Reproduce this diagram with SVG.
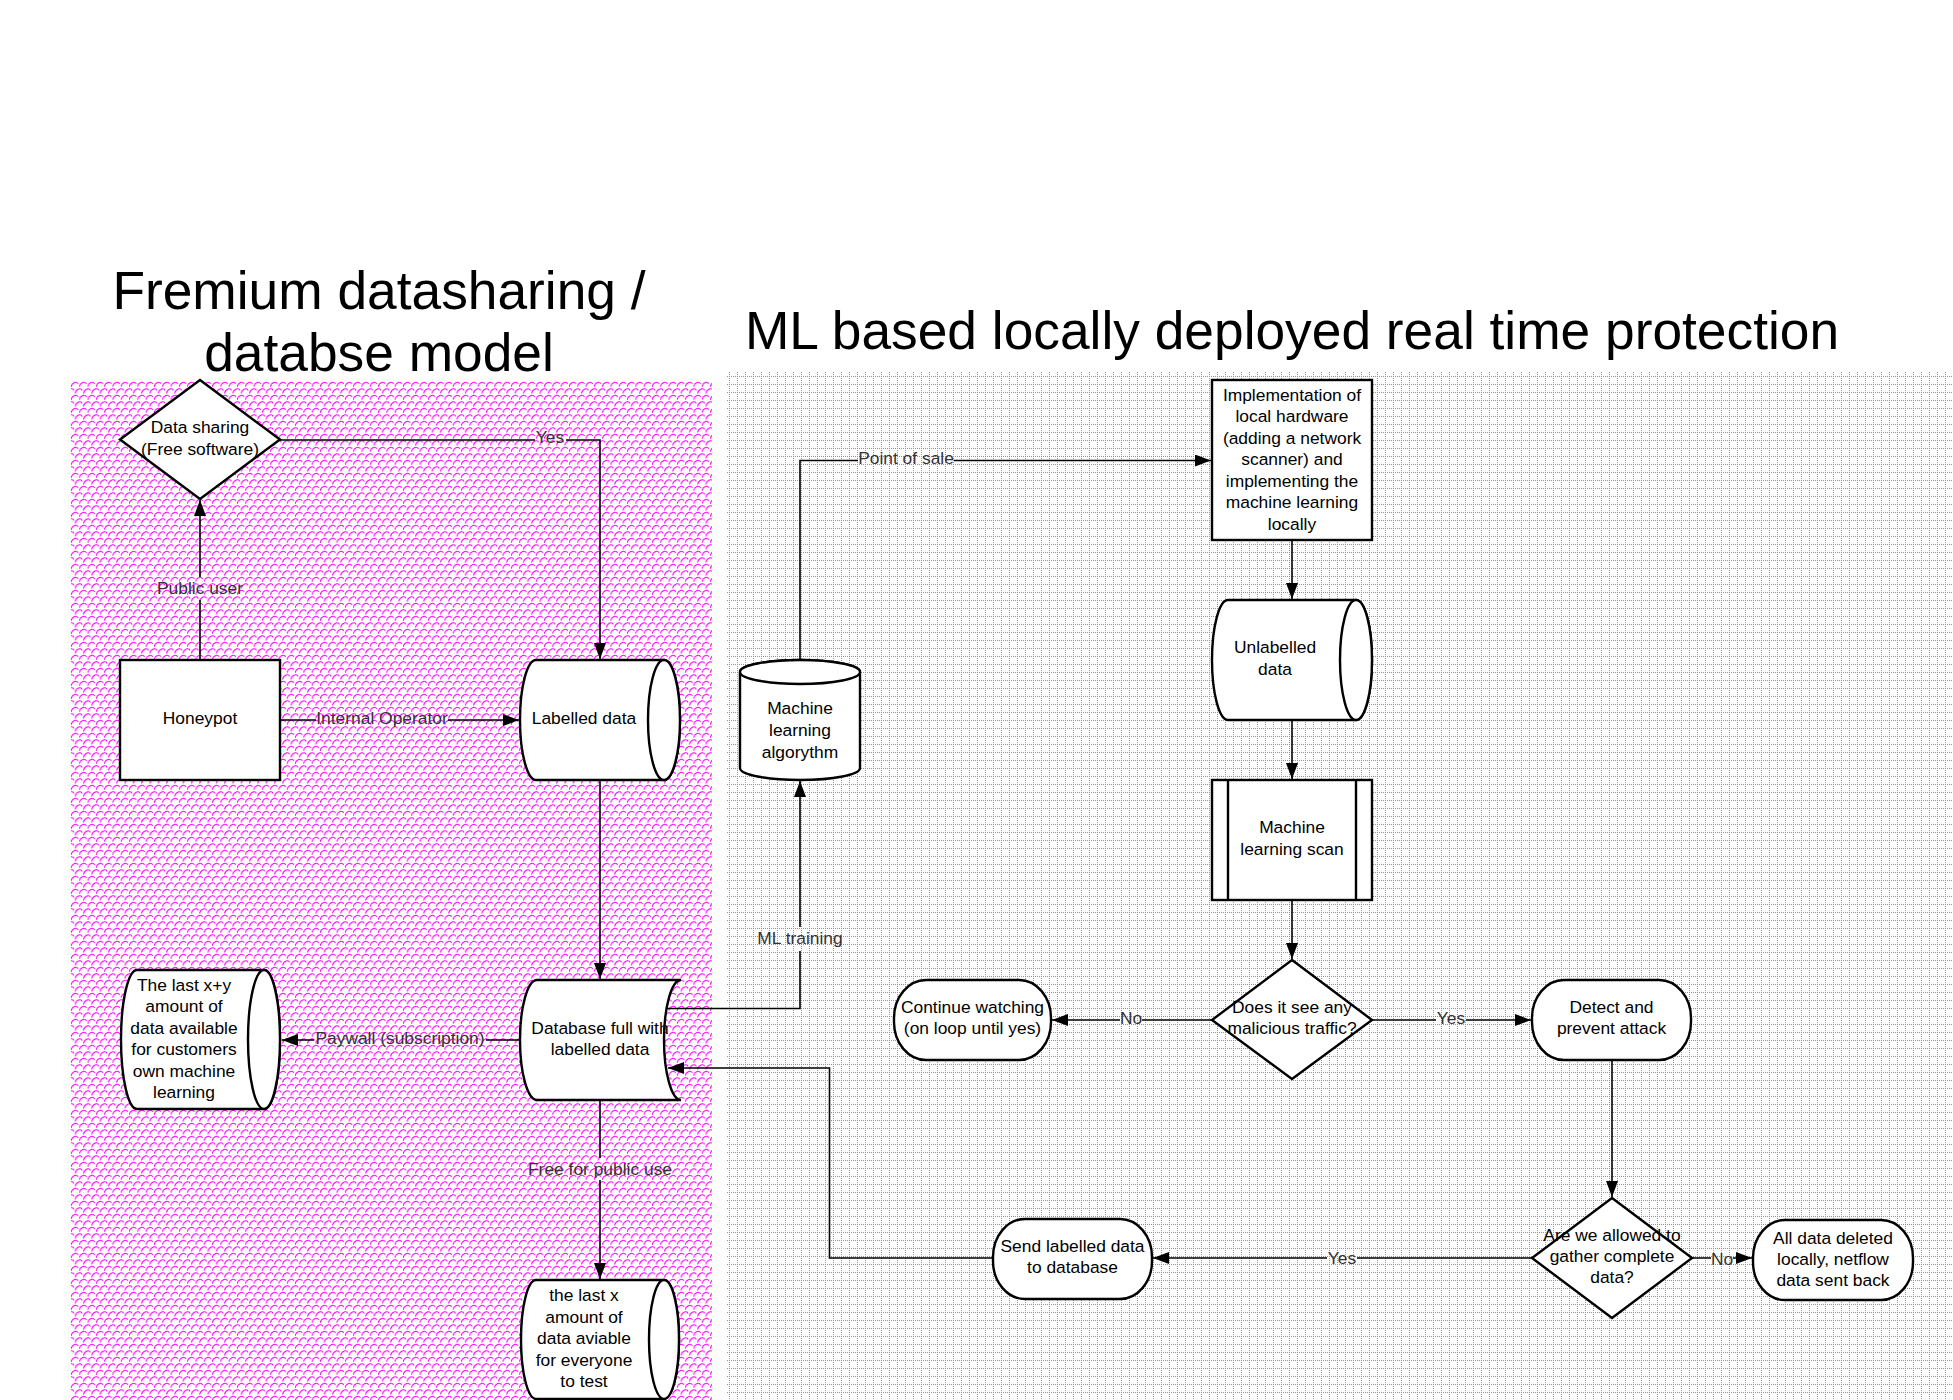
<svg xmlns="http://www.w3.org/2000/svg" width="1953" height="1400" viewBox="0 0 1953 1400">
<style>
.node{fill:#fff;stroke:#000;stroke-width:2.4;}
.t{font-family:"Liberation Sans",Arial,sans-serif;font-size:17.4px;fill:#000;text-anchor:middle;}
.lbl{font-family:"Liberation Sans",Arial,sans-serif;font-size:17.4px;fill:#333;text-anchor:middle;}
.title{font-family:"Liberation Sans",Arial,sans-serif;font-size:53.3px;fill:#000;text-anchor:middle;}
.conn{fill:none;stroke:#000;stroke-width:1.6;}
</style>
<defs>
<pattern id="pinkPat" patternUnits="userSpaceOnUse" x="71" y="381" width="8.3" height="13">
<rect width="8.3" height="13" fill="#fff"/>
<path d="M0,6 C1,1 6,0 7,3 M4.15,12.5 C5.15,7.5 10.15,6.5 11.15,9.5 M-4.15,12.5 C-3.15,7.5 1.85,6.5 2.85,9.5" fill="none" stroke="#ff00ff" stroke-width="1"/>
</pattern>
<pattern id="greenPat" patternUnits="userSpaceOnUse" x="729" y="368" width="8" height="8">
<rect width="8" height="8" fill="#fff"/>
<path shape-rendering="crispEdges" d="M0 0h1v1h-1z M2 0h1v1h-1z M4 0h1v1h-1z M6 0h1v1h-1z M0 2h1v1h-1z M0 4h1v1h-1z M0 6h1v1h-1z" fill="#00ee44"/>
</pattern>
<marker id="arr" markerUnits="userSpaceOnUse" viewBox="0 0 16 12" refX="16" refY="6" markerWidth="16" markerHeight="12" orient="auto">
<path d="M0,0 L16,6 L0,12 Z" fill="#000"/>
</marker>
</defs>
<rect width="1953" height="1400" fill="#fff"/>

<g id="regions">
<rect x="71" y="381" width="641" height="1019" fill="url(#pinkPat)"/>
<rect x="727" y="372" width="1226" height="1028" fill="url(#greenPat)" shape-rendering="crispEdges"/>
</g>

<g id="titles">
<text class="title" x="379" y="309">Fremium datasharing /</text>
<text class="title" x="379" y="371">databse model</text>
<text class="title" x="1292" y="349">ML based locally deployed real time protection</text>
</g>

<g id="connectors">
<path class="conn" d="M200,660 L200,600 M200,577 L200,500" marker-end="url(#arr)"/>
<path class="conn" d="M280,440 L535,440 M566,440 L600,440 L600,659" marker-end="url(#arr)"/>
<path class="conn" d="M280,720 L316,720 M448,720 L519,720" marker-end="url(#arr)"/>
<path class="conn" d="M600,780 L600,979" marker-end="url(#arr)"/>
<path class="conn" d="M521,1040 L486,1040 M314,1040 L282,1040" marker-end="url(#arr)"/>
<path class="conn" d="M600,1100 L600,1158 M600,1180 L600,1279" marker-end="url(#arr)"/>
<path class="conn" d="M667,1008.5 L800,1008.5 L800,951 M800,927 L800,781" marker-end="url(#arr)"/>
<path class="conn" d="M800,660 L800,460.5 L858,460.5 M954,460.5 L1211,460.5" marker-end="url(#arr)"/>
<path class="conn" d="M1292,540 L1292,599" marker-end="url(#arr)"/>
<path class="conn" d="M1292,720 L1292,779" marker-end="url(#arr)"/>
<path class="conn" d="M1292,900 L1292,959" marker-end="url(#arr)"/>
<path class="conn" d="M1212,1020 L1142,1020 M1120,1020 L1052,1020" marker-end="url(#arr)"/>
<path class="conn" d="M1372,1020 L1436,1020 M1466,1020 L1531,1020" marker-end="url(#arr)"/>
<path class="conn" d="M1612,1060 L1612,1197" marker-end="url(#arr)"/>
<path class="conn" d="M1532,1258 L1357,1258 M1327,1258 L1153,1258" marker-end="url(#arr)"/>
<path class="conn" d="M1692,1258 L1711,1258 M1733,1258 L1752,1258" marker-end="url(#arr)"/>
<path class="conn" d="M993,1258 L829.5,1258 L829.5,1068 L668,1068" marker-end="url(#arr)"/>
<text class="lbl" x="200" y="594">Public user</text>
<text class="lbl" x="550" y="443">Yes</text>
<text class="lbl" x="382" y="723.5">Internal Operator</text>
<text class="lbl" x="400" y="1044">Paywall (subscription)</text>
<text class="lbl" x="600" y="1174.5">Free for public use</text>
<text class="lbl" x="800" y="944">ML training</text>
<text class="lbl" x="906" y="464">Point of sale</text>
<text class="lbl" x="1131" y="1024">No</text>
<text class="lbl" x="1451" y="1023.5">Yes</text>
<text class="lbl" x="1342" y="1264">Yes</text>
<text class="lbl" x="1722" y="1265">No</text>
</g>

<g id="data-sharing">
<polygon class="node" points="200,380 280,439.5 200,499 120,439.5"/>
<text class="t" x="200" y="433">Data sharing</text>
<text class="t" x="200" y="454.5">(Free software)</text>
</g>

<g id="honeypot">
<rect class="node" x="120" y="660" width="160" height="120"/>
<text class="t" x="200" y="723.5">Honeypot</text>
</g>

<g id="labelled-data">
<path class="node" d="M536,660 L664,660 A16,60 0 0 1 664,780 L536,780 A16,60 0 0 1 536,660 Z"/>
<ellipse class="node" cx="664" cy="720" rx="16" ry="60"/>
<text class="t" x="584" y="723.5">Labelled data</text>
</g>

<g id="database">
<path class="node" d="M537,980 L681,980 A17,60 0 0 0 681,1100 L537,1100 A17,60 0 0 1 537,980 Z"/>
<text class="t" x="600" y="1034">Database full with</text>
<text class="t" x="600" y="1055">labelled data</text>
</g>

<g id="last-xy">
<path class="node" d="M137,970 L264,970 A16,69.5 0 0 1 264,1109 L137,1109 A16,69.5 0 0 1 137,970 Z"/>
<ellipse class="node" cx="264" cy="1039.5" rx="16" ry="69.5"/>
<text class="t" x="184" y="990.5">The last x+y</text>
<text class="t" x="184" y="1012">amount of</text>
<text class="t" x="184" y="1033.5">data available</text>
<text class="t" x="184" y="1055">for customers</text>
<text class="t" x="184" y="1076.5">own machine</text>
<text class="t" x="184" y="1098">learning</text>
</g>

<g id="last-x">
<path class="node" d="M536,1280 L664,1280 A15,59.5 0 0 1 664,1399 L536,1399 A15,59.5 0 0 1 536,1280 Z"/>
<ellipse class="node" cx="664" cy="1339.5" rx="15" ry="59.5"/>
<text class="t" x="584" y="1301">the last x</text>
<text class="t" x="584" y="1322.5">amount of</text>
<text class="t" x="584" y="1344">data aviable</text>
<text class="t" x="584" y="1365.5">for everyone</text>
<text class="t" x="584" y="1387">to test</text>
</g>

<g id="ml-algorythm">
<path class="node" d="M740,672 A60,12 0 0 1 860,672 L860,768 A60,12 0 0 1 740,768 Z"/>
<ellipse class="node" cx="800" cy="672" rx="60" ry="12"/>
<text class="t" x="800" y="714">Machine</text>
<text class="t" x="800" y="736">learning</text>
<text class="t" x="800" y="757.5">algorythm</text>
</g>

<g id="implementation">
<rect class="node" x="1212" y="380" width="160" height="160"/>
<text class="t" x="1292" y="400.5">Implementation of</text>
<text class="t" x="1292" y="422">local hardware</text>
<text class="t" x="1292" y="443.5">(adding a network</text>
<text class="t" x="1292" y="465">scanner) and</text>
<text class="t" x="1292" y="486.5">implementing the</text>
<text class="t" x="1292" y="508">machine learning</text>
<text class="t" x="1292" y="529.5">locally</text>
</g>

<g id="unlabelled-data">
<path class="node" d="M1228,600 L1356,600 A16,60 0 0 1 1356,720 L1228,720 A16,60 0 0 1 1228,600 Z"/>
<ellipse class="node" cx="1356" cy="660" rx="16" ry="60"/>
<text class="t" x="1275" y="653">Unlabelled</text>
<text class="t" x="1275" y="675">data</text>
</g>

<g id="ml-scan">
<rect class="node" x="1212" y="780" width="160" height="120"/>
<line x1="1228" y1="780" x2="1228" y2="900" stroke="#000" stroke-width="2.4"/>
<line x1="1356" y1="780" x2="1356" y2="900" stroke="#000" stroke-width="2.4"/>
<text class="t" x="1292" y="833">Machine</text>
<text class="t" x="1292" y="855">learning scan</text>
</g>

<g id="malicious-decision">
<polygon class="node" points="1292,960 1372,1020 1292,1079 1212,1020"/>
<text class="t" x="1292" y="1013">Does it see any</text>
<text class="t" x="1292" y="1034">malicious traffic?</text>
</g>

<g id="continue-watching">
<rect class="node" x="894" y="980" width="157" height="80" rx="32" ry="38"/>
<text class="t" x="972.5" y="1013">Continue watching</text>
<text class="t" x="972.5" y="1034">(on loop until yes)</text>
</g>

<g id="detect-prevent">
<rect class="node" x="1532" y="980" width="159" height="80" rx="32" ry="38"/>
<text class="t" x="1611.5" y="1013">Detect and</text>
<text class="t" x="1611.5" y="1034">prevent attack</text>
</g>

<g id="allowed-decision">
<polygon class="node" points="1612,1198 1692,1258 1612,1318 1532,1258"/>
<text class="t" x="1612" y="1240.5">Are we allowed to</text>
<text class="t" x="1612" y="1262">gather complete</text>
<text class="t" x="1612" y="1283">data?</text>
</g>

<g id="send-labelled">
<rect class="node" x="993" y="1219" width="159" height="80" rx="32" ry="38"/>
<text class="t" x="1072.5" y="1252">Send labelled data</text>
<text class="t" x="1072.5" y="1273">to database</text>
</g>

<g id="all-deleted">
<rect class="node" x="1753" y="1220" width="160" height="80" rx="32" ry="38"/>
<text class="t" x="1833" y="1243.5">All data deleted</text>
<text class="t" x="1833" y="1265">locally, netflow</text>
<text class="t" x="1833" y="1286">data sent back</text>
</g>
</svg>
